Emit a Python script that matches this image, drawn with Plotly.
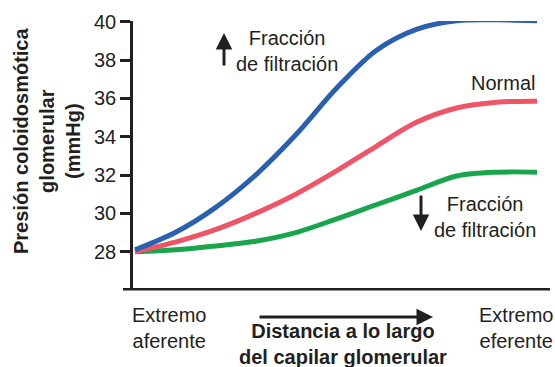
import plotly.graph_objects as go

# distance along the capillary (0 = afferent end, 1 = efferent end)
distance = [0, 0.1, 0.2, 0.3, 0.4, 0.5, 0.6, 0.7, 0.8, 0.9, 1.0]
high_ff = [28.1, 29.0, 30.3, 32.0, 34.1, 36.5, 38.5, 39.6, 40.05, 40.1, 40.05]
normal = [28.0, 28.5, 29.15, 30.0, 31.0, 32.2, 33.5, 34.75, 35.5, 35.8, 35.85]
low_ff = [28.0, 28.1, 28.3, 28.55, 29.0, 29.7, 30.45, 31.2, 31.95, 32.15, 32.15]
y_ticks = [28, 30, 32, 34, 36, 38, 40]

W, H = 555, 367
L, R, T = 133, 5, 21
B = H - T - 268
INK = '#231f20'
FONT = 'Liberation Sans, Arial, sans-serif'


def px(x):
    return (x - L) / (W - L - R)


def py(y):
    return (H - B - y) / (H - T - B)


fig = go.Figure()
for vals, color in [(low_ff, '#19a54b'), (normal, '#ef5567'), (high_ff, '#2a60b0')]:
    fig.add_scatter(x=distance, y=vals, mode='lines', line=dict(color=color, width=5, shape='spline', smoothing=0.9),
                    showlegend=False, hoverinfo='skip')

fig.update_layout(
    width=W, height=H,
    margin=dict(l=L, r=R, t=T, b=B),
    paper_bgcolor='white', plot_bgcolor='white',
    font=dict(family=FONT, size=20, color=INK),
)
fig.update_xaxes(range=[-0.005, 1.0323], visible=False)
fig.update_yaxes(range=[26.054, 40.037], tickvals=y_ticks, showline=True, linecolor=INK, linewidth=2.5,
                 ticks='outside', ticklen=10, tickwidth=2.5, tickcolor=INK, showgrid=False, zeroline=False,
                 tickfont=dict(size=20, color=INK))

# x axis line extends a little left of the y axis
fig.add_shape(type='line', xref='paper', yref='paper', x0=px(123), x1=px(550), y0=py(289.3), y1=py(289.3),
              line=dict(color=INK, width=2.5))


def label(text, x, y, xanchor='center', bold=False, angle=0):
    if bold:
        text = '<b>' + text.replace('<br>', '</b><br><b>') + '</b>'
    fig.add_annotation(text=text, x=px(x), y=py(y), xref='paper', yref='paper', showarrow=False,
                       xanchor=xanchor, yanchor='middle', align='center', textangle=angle,
                       font=dict(family=FONT, size=20, color=INK))


def arrow(x, y, ax, ay):
    fig.add_annotation(text='', x=px(x), y=py(y), xref='paper', yref='paper', ax=ax, ay=ay,
                       showarrow=True, arrowhead=2, arrowsize=1.1, arrowwidth=3, arrowcolor=INK, standoff=0)


label('Fracción<br>de filtración', 287, 51)
label('Fracción<br>de filtración', 485, 217)
label('Normal', 537, 83, xanchor='right')
label('Extremo<br>aferente', 130, 328, xanchor='left')
label('Extremo<br>eferente', 477, 328, xanchor='left')
label('Distancia a lo largo<br>del capilar glomerular', 343, 344, bold=True)
label('Presión coloidosmótica<br>glomerular<br>(mmHg)', 47, 141, bold=True, angle=-90)

arrow(224, 33, 0, 34)
arrow(421, 231, 0, -37)
arrow(433, 317, -175, 0)

# drop the default page margin so the figure sits at the window's corner
fig.write_html('out.html', config={'displayModeBar': False},
               post_script="document.body.style.margin='0';document.body.style.overflow='hidden';")
